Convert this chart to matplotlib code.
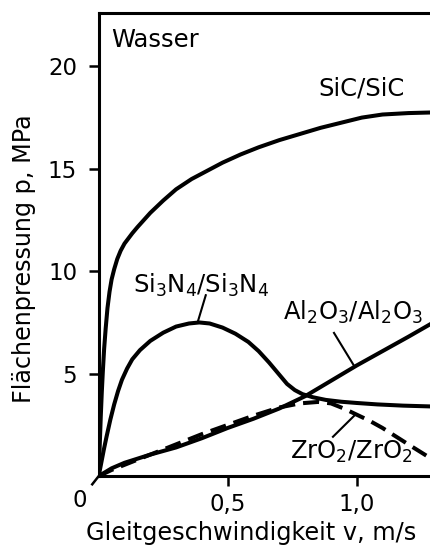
import matplotlib
matplotlib.use('Agg')
import matplotlib.pyplot as plt

# Gleitgeschwindigkeit v (m/s) und Flaechenpressung p (MPa)
sic_x = [0, 0.004, 0.008, 0.012, 0.016, 0.021, 0.027, 0.034, 0.042, 0.05, 0.06, 0.072, 0.085,
         0.1, 0.115, 0.13, 0.15, 0.175, 0.2, 0.25, 0.3, 0.36, 0.42, 0.48, 0.55, 0.62, 0.7,
         0.78, 0.86, 0.94, 1.02, 1.1, 1.2, 1.29]
sic_y = [0, 1.5, 2.9, 4.1, 5.1, 6.2, 7.2, 8.2, 9.0, 9.6, 10.1, 10.6, 11.0,
         11.35, 11.6, 11.85, 12.15, 12.5, 12.85, 13.45, 14.0, 14.5, 14.9, 15.3, 15.7, 16.05, 16.4,
         16.7, 17.0, 17.25, 17.5, 17.65, 17.72, 17.75]

si3n4_x = [0, 0.01, 0.02, 0.03, 0.045, 0.06, 0.075, 0.09, 0.11, 0.13, 0.16, 0.2, 0.25, 0.3,
           0.35, 0.39, 0.43, 0.48, 0.53, 0.58, 0.62, 0.66, 0.7, 0.73, 0.76, 0.79, 0.83, 0.88,
           0.94, 1.0, 1.08, 1.18, 1.29]
si3n4_y = [0, 0.65, 1.3, 1.9, 2.75, 3.5, 4.15, 4.7, 5.25, 5.7, 6.15, 6.6, 7.0, 7.3,
           7.45, 7.5, 7.45, 7.25, 6.95, 6.55, 6.1, 5.55, 4.95, 4.5, 4.2, 4.0, 3.85, 3.72,
           3.63, 3.57, 3.5, 3.44, 3.4]

al2o3_x = [0, 0.05, 0.1, 0.2, 0.3, 0.4, 0.5, 0.6, 0.7, 0.8, 0.9, 1.0, 1.1, 1.2, 1.29]
al2o3_y = [0, 0.38, 0.65, 1.05, 1.4, 1.85, 2.35, 2.8, 3.3, 3.9, 4.65, 5.4, 6.1, 6.8, 7.45]

zro2_x = [0, 0.05, 0.1, 0.2, 0.3, 0.4, 0.5, 0.6, 0.7, 0.78, 0.85, 0.9, 0.95, 1.0, 1.05,
          1.1, 1.15, 1.2, 1.27]
zro2_y = [0, 0.3, 0.55, 1.05, 1.55, 2.05, 2.5, 2.95, 3.35, 3.55, 3.62, 3.55, 3.3, 3.0, 2.7,
          2.35, 1.95, 1.55, 1.0]

xticks = [0.5, 1.0]
xticklabels = ['0,5', '1,0']
yticks = [5, 10, 15, 20]

fs_tick = 16.5
fs_lab = 17.5
lw = 2.9

fig = plt.figure(figsize=(4.31, 5.46), dpi=100)
ax = fig.add_axes([0.229, 0.128, 0.771, 0.848])

ax.plot(sic_x, sic_y, color='black', lw=lw)
ax.plot(si3n4_x, si3n4_y, color='black', lw=lw)
ax.plot(al2o3_x, al2o3_y, color='black', lw=lw)
ax.plot(zro2_x, zro2_y, color='black', lw=lw, dashes=(4, 2))

ax.set_xlim(0, 1.288)
ax.set_ylim(0, 22.6)
ax.set_xticks(xticks)
ax.set_xticklabels(xticklabels)
ax.set_yticks(yticks)
ax.tick_params(direction='out', length=7, width=1.8, labelsize=fs_tick)
ax.tick_params(axis='x', pad=5)
ax.tick_params(axis='y', pad=8.5)
ax.spines['right'].set_visible(False)
for s in ['left', 'bottom', 'top']:
    ax.spines[s].set_linewidth(2.2)

# kleiner Strich am Ursprung
ax.plot([-0.025, 0], [-0.4, 0], color='black', lw=1.8, clip_on=False)

ax.set_xlabel('Gleitgeschwindigkeit v, m/s', fontsize=17.3)
ax.set_ylabel('Flächenpressung p, MPa', fontsize=17.2)
ax.xaxis.set_label_coords(0.46, -0.097)
ax.yaxis.set_label_coords(-0.19, 0.47)

ax.text(-0.058, -0.052, '0', transform=ax.transAxes, fontsize=fs_tick, ha='center', va='center')
ax.text(0.05, 21.3, 'Wasser', fontsize=fs_lab, ha='left', va='center')
ax.text(1.017, 18.9, 'SiC/SiC', fontsize=fs_lab, ha='center', va='center')

# Beschriftungen mit Hinweislinien
ax.text(0.395, 9.3, r'Si$_3$N$_4$/Si$_3$N$_4$', fontsize=fs_lab, ha='center', va='center')
ax.plot([0.415, 0.384], [8.83, 7.53], color='black', lw=1.5)
ax.text(0.987, 8.0, r'Al$_2$O$_3$/Al$_2$O$_3$', fontsize=fs_lab, ha='center', va='center')
ax.plot([0.912, 0.99], [6.99, 5.38], color='black', lw=1.5)
ax.text(0.98, 1.19, r'ZrO$_2$/ZrO$_2$', fontsize=fs_lab, ha='center', va='center')
ax.plot([0.908, 0.993], [1.92, 2.98], color='black', lw=1.5)

fig.savefig('out.png', dpi=100)
